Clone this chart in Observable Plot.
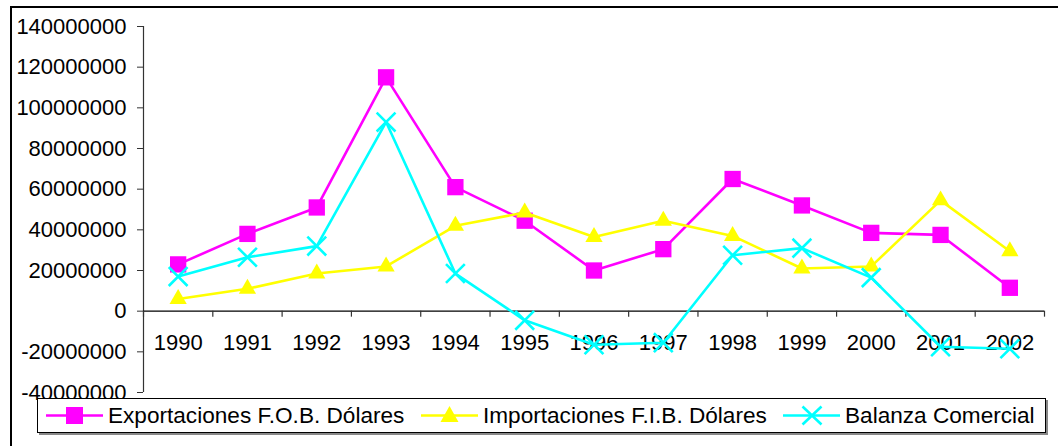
<!DOCTYPE html>
<html>
<head>
<meta charset="utf-8">
<script src="https://cdn.jsdelivr.net/npm/d3@7"></script>
<script src="https://cdn.jsdelivr.net/npm/@observablehq/plot@0.6"></script>
<style>
  html, body { margin: 0; padding: 0; background: #fff; overflow: hidden; }
  #wrap { position: relative; width: 1058px; height: 446px; font-family: "Liberation Sans", Arial, sans-serif; }
  #frame { position: absolute; left: 10px; top: 6px; width: 1100px; height: 500px; border: 2px solid #000; box-sizing: border-box; pointer-events: none; }
  #legend { position: absolute; left: 37px; top: 398px; width: 1009px; height: 35px; border: 1px solid #000; box-sizing: border-box; background: #fff; box-shadow: 2px 2px 0 #888; display: flex; align-items: center; font-size: 22.6px; color: #000; }
  .item { position: absolute; top: 0; height: 33px; display: flex; align-items: center; white-space: nowrap; }
  .item svg { margin-right: 5px; }
</style>
</head>
<body>
<div id="wrap">
  <div id="chart"></div>
  <div id="frame"></div>
  <div id="legend"></div>
</div>
<script>
const years = [1990, 1991, 1992, 1993, 1994, 1995, 1996, 1997, 1998, 1999, 2000, 2001, 2002];
const exportaciones = [23000000, 38000000, 51000000, 115000000, 61000000, 44500000, 20000000, 30500000, 65000000, 52000000, 38500000, 37500000, 11500000];
const importaciones = [6000000, 11000000, 18500000, 22000000, 42000000, 48500000, 36500000, 44500000, 37000000, 21000000, 22000000, 54500000, 29500000];
const balanza = [17000000, 26500000, 32000000, 93000000, 18500000, -4500000, -16500000, -15500000, 27500000, 31000000, 16500000, -17500000, -18500000];
const seriesNames = ["Exportaciones F.O.B. Dólares", "Importaciones F.I.B. Dólares", "Balanza Comercial"];
const seriesColors = ["#FF00FF", "#FFFF00", "#00FFFF"];
const yTicks = [-40000000, -20000000, 0, 20000000, 40000000, 60000000, 80000000, 100000000, 120000000, 140000000];
const xDomain = [1989.5, 2002.5];
const xTicks = d3.range(xDomain[0], xDomain[1] + 0.01, 1);

const mk = (vals) => years.map((y, i) => ({year: y, value: vals[i]}));
const dExp = mk(exportaciones), dImp = mk(importaciones), dBal = mk(balanza);

const chart = Plot.plot({
  width: 1058,
  height: 446,
  marginLeft: 143,
  marginRight: 14,
  marginTop: 26,
  marginBottom: 54,
  style: {fontFamily: "'Liberation Sans', Arial, sans-serif", fontSize: "22px", color: "#000", background: "transparent"},
  x: {domain: xDomain, axis: null},
  y: {domain: [yTicks[0], yTicks[yTicks.length - 1]], axis: null},
  marks: [
    Plot.text(years, {x: d => d, y: 0, dy: 32, text: d => String(d), fontSize: 22, fill: "#000"}),
    Plot.axisY({ticks: yTicks, tickFormat: d => String(d), tickSize: 6, tickPadding: 11, fontSize: 22, label: null, stroke: "#333"}),
    Plot.ruleX([xDomain[0]], {stroke: "#333", strokeWidth: 1.2}),
    Plot.ruleY([0], {stroke: "#000", strokeWidth: 1.2}),
    Plot.ruleX(xTicks, {x: d => d, y1: 0, y2: 0, insetBottom: -6, stroke: "#333", strokeWidth: 1.2}),
    Plot.line(dExp, {x: "year", y: "value", stroke: seriesColors[0], strokeWidth: 2.6}),
    Plot.dot(dExp, {x: "year", y: "value", symbol: "square", r: 9.2, fill: seriesColors[0], stroke: "none"}),
    Plot.line(dImp, {x: "year", y: "value", stroke: seriesColors[1], strokeWidth: 2.6}),
    Plot.dot(dImp, {x: "year", y: "value", symbol: "triangle", r: 6.4, fill: seriesColors[1], stroke: "none"}),
    Plot.line(dBal, {x: "year", y: "value", stroke: seriesColors[2], strokeWidth: 2.6}),
    Plot.dot(dBal, {x: "year", y: "value", symbol: "times", r: 8.6, stroke: seriesColors[2], strokeWidth: 2.6})
  ]
});
document.getElementById("chart").appendChild(chart);

// Legend
const legend = document.getElementById("legend");
const lefts = [8, 383, 745];
const markers = [
  '<rect x="20" y="8" width="17" height="17" fill="#FF00FF"/>',
  '<path d="M28.5,7 L37.5,23 L19.5,23 Z" fill="#FFFF00"/>',
  '<path d="M19.5,7.5 L38.5,25.5 M38.5,7.5 L19.5,25.5" stroke="#00FFFF" stroke-width="2.6"/>'
];
seriesNames.forEach((name, i) => {
  const item = document.createElement("div");
  item.className = "item";
  item.style.left = lefts[i] + "px";
  item.innerHTML = `<svg width="57" height="33" viewBox="0 0 57 33"><line x1="0" y1="16.5" x2="57" y2="16.5" stroke="${seriesColors[i]}" stroke-width="2.6"/>${markers[i]}</svg><span>${name}</span>`;
  legend.appendChild(item);
});
</script>
</body>
</html>
